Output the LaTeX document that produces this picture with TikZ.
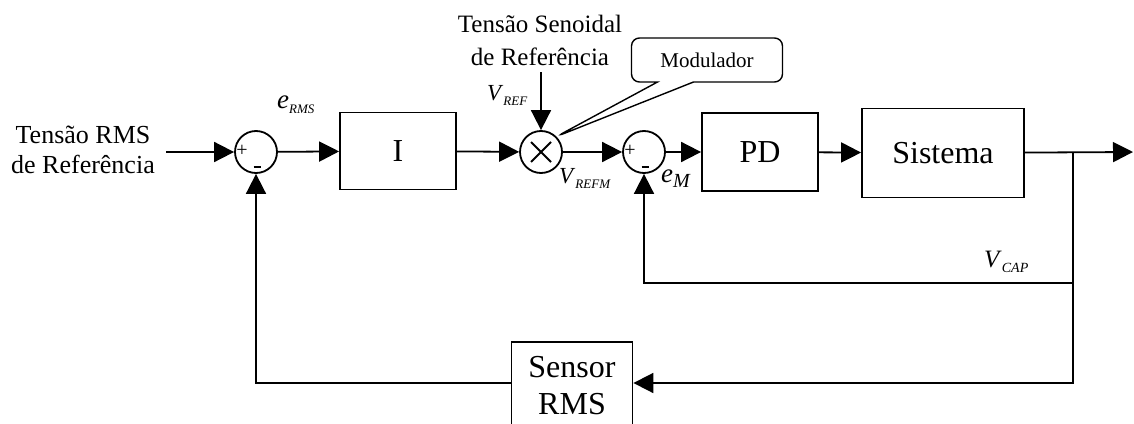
\documentclass[tikz,border=0pt]{standalone}
\usepackage{fontspec}
\setmainfont{Liberation Serif}
\usepackage{tikz}
\usetikzlibrary{arrows.meta, positioning, calc, shapes.callouts}

\newcommand{\sglabel}[3]{\textit{#1}\raisebox{-5pt}{\fontsize{#3}{#3}\selectfont\textit{#2}}}

\tikzset{
    blockbox/.style={draw, line width=1.8pt, inner sep=0pt, font=\fontsize{32}{37}\selectfont},
    sumnode/.style={draw, circle, line width=1.8pt, minimum size=42pt, inner sep=0pt},
    sigline/.style={line width=1.8pt, -{Triangle[length=20pt,width=20pt]}},
    signtxt/.style={inner sep=0pt, font=\fontsize{20}{20}\selectfont},
    sglbl/.style={anchor=base west, inner sep=0pt}
}

\begin{document}
\begin{tikzpicture}[x=1pt, y=-1pt]
    \useasboundingbox (0,0) rectangle (1134,423);
    \node[align=center, font=\fontsize{26}{30}\selectfont] (reflbl) at (83,150) {Tensão RMS\\de Referência};
    \coordinate (src) at (166,152);
    \node[sumnode] (sum1) at (256,152) {};
    \node[blockbox, minimum width=116pt, minimum height=77pt] (integ) at (398,151) {I};
    \node[sumnode] (mult) at (541,152) {};
    \draw[line width=1.8pt] ([shift={(-10,-10)}]mult.center) -- ([shift={(10,10)}]mult.center);
    \draw[line width=1.8pt] ([shift={(-10,10)}]mult.center) -- ([shift={(10,-10)}]mult.center);
    \node[align=center, font=\fontsize{25}{33}\selectfont] (senlbl) at (540,40) {Tensão Senoidal\\de Referência};
    \coordinate (vreftop) at (541,72);
    \node[rectangle callout, draw, line width=1.4pt, rounded corners=8pt, minimum width=151pt, minimum height=44pt,
          callout absolute pointer={(mult.45)}, callout pointer width=36pt,
          font=\fontsize{21}{21}\selectfont] (modlbl) at (707,60) {Modulador};
    \node[sumnode] (sum2) at (644,152) {};
    \node[blockbox, minimum width=116pt, minimum height=78pt] (pd) at (760,152) {PD};
    \node[blockbox, minimum width=162pt, minimum height=89pt] (plant) at (943,153) {Sistema};
    \coordinate (tap) at (1073,152);
    \coordinate (out) at (1133,152);
    \coordinate (capturn) at (1073,283);
    \coordinate (rmsturn) at (1073,383);
    \node[blockbox, minimum width=121pt, minimum height=88pt, align=center] (sensor) at (572,386) {Sensor\\RMS};

    \node[signtxt] at (242,151) {+};
    \node[signtxt] at (257,167) {\rule{7pt}{2.5pt}};
    \node[signtxt] at (630,151) {+};
    \node[signtxt] at (645,167) {\rule{7pt}{2.5pt}};

    \node[sglbl, font=\fontsize{27}{27}\selectfont] (ermslbl) at (277,108) {\sglabel{e}{RMS}{13}};
    \node[sglbl, font=\fontsize{23}{23}\selectfont] (vreflbl) at (487,100) {\sglabel{V}{REF}{13}};
    \node[sglbl, font=\fontsize{23}{23}\selectfont] (vrefmlbl) at (559,183) {\sglabel{V}{REFM}{13}};
    \node[sglbl, font=\fontsize{27}{27}\selectfont] (emlbl) at (661,182) {\sglabel{e}{M}{20}};
    \node[sglbl, font=\fontsize{25}{25}\selectfont] (vcaplbl) at (984,267) {\sglabel{V}{CAP}{14}};

    \draw[sigline] (src) -- (sum1);
    \draw[sigline] (sum1) -- (integ);
    \draw[sigline] (integ) -- (mult);
    \draw[sigline] (vreftop) -- (mult);
    \draw[sigline] (mult) -- (sum2);
    \draw[sigline] (sum2) -- (pd);
    \draw[sigline] (pd) -- (plant);
    \draw[sigline] (plant) -- (out);
    \draw[sigline] (tap) -- (capturn) -| (sum2.south);
    \draw[sigline] (capturn) -- (rmsturn) -- (sensor.east |- rmsturn);
    \draw[sigline] (sensor.west |- rmsturn) -| (sum1.south);
\end{tikzpicture}
\end{document}
